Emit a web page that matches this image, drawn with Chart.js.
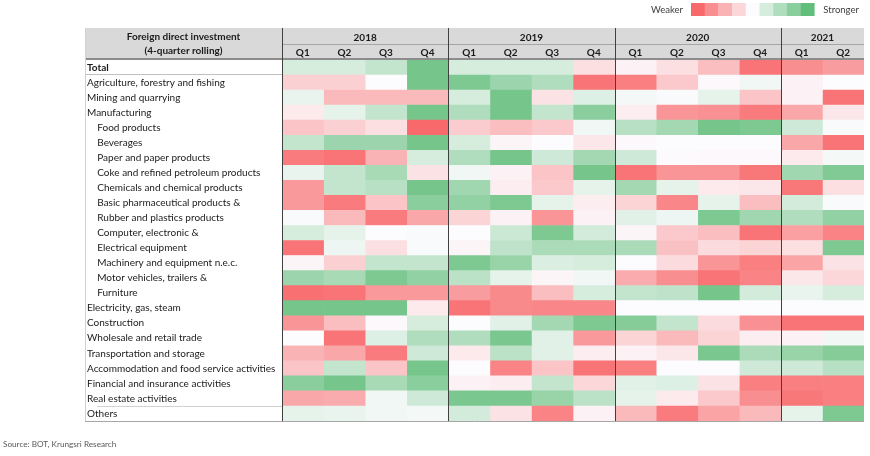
<!DOCTYPE html>
<html>
<head>
<meta charset="utf-8">
<script src="https://cdn.jsdelivr.net/npm/chart.js@4.4.0/dist/chart.umd.min.js"></script>
<style>
html, body { margin: 0; padding: 0; background: #fff; }
#wrap { position: relative; width: 870px; height: 456px; }
</style>
</head>
<body>
<div id="wrap"><canvas id="heat"></canvas></div>
<script>
'use strict';

var rowLabels = [
    'Total',
    'Agriculture, forestry and fishing',
    'Mining and quarrying',
    'Manufacturing',
    '    Food products',
    '    Beverages',
    '    Paper and paper products',
    '    Coke and refined petroleum products',
    '    Chemicals and chemical products',
    '    Basic pharmaceutical products &',
    '    Rubber and plastics products',
    '    Computer, electronic &',
    '    Electrical equipment',
    '    Machinery and equipment n.e.c.',
    '    Motor vehicles, trailers &',
    '    Furniture',
    'Electricity, gas, steam',
    'Construction',
    'Wholesale and retail trade',
    'Transportation and storage',
    'Accommodation and food service activities',
    'Financial and insurance activities',
    'Real estate activities',
    'Others'
];
var years = ['2018', '2019', '2020', '2021'];
var yearSpans = [4, 4, 4, 2];
var quarters = ['Q1', 'Q2', 'Q3', 'Q4', 'Q1', 'Q2', 'Q3', 'Q4', 'Q1', 'Q2', 'Q3', 'Q4', 'Q1', 'Q2'];

var s2018 = [
    [1, 1, 1.5, 3.5], [-1.2, -1.2, 0, 3.5], [0.5, -1.8, -1.8, -1.8], [-0.5, 0.6, 1.5, 3.5],
    [-1.5, -1.2, -0.8, -4], [1.5, 2.5, 2.5, 3.5], [-3.5, -3.7, -2, 1], [0.5, 1.5, 2.2, -0.7],
    [-2.7, 1.5, 1.8, 3.5], [-2.7, -3.5, -1.5, 3], [0.1, -1.8, -3.5, -2.3], [1, 0.6, 0, 0.1],
    [-3.7, 0.4, -0.8, 0.1], [-0.2, -1.2, 1.5, 1.5], [2.5, 2.2, 3.3, 2.8], [-3.8, -3.7, -2.7, -2.7],
    [3.5, 3.5, 3.5, -0.5], [-2.8, -1.7, -0.1, 1], [0, -3.7, 0.8, 2], [-2, -2.3, -3.5, 1.2],
    [-1.5, 1.5, -1.5, 3.5], [3, 3.5, 2.2, 3], [-2.3, -2.2, 0.3, 1.2], [0.6, 0.5, 0.3, 0.2]
];
var s2019 = [
    [1, 1, 1, -0.8], [3.3, 2.5, 2, -3.7], [1, 3.5, -0.7, 0.8], [2, 3.5, 1.5, 3],
    [-1.3, -1.7, -1.4, 0.3], [1, -0.2, 0, -0.6], [2, 3.5, 1.2, 2.3], [0.3, -0.3, -1.5, 3.5],
    [2.4, -0.4, -1.4, 0.6], [2.8, 3.3, 0.6, -0.4], [-1.1, -0.3, -2.8, -0.3], [0, 1.3, 3.3, 1.1],
    [-0.2, 1.6, 2.1, 2.1], [3.3, 2.6, 0.9, 1], [1.7, 0.6, -0.2, 0.3], [-2.6, -3.1, -1.7, 1],
    [-3.7, -3.1, -3.2, -3.2], [0, 0.7, 2.3, 3.3], [2, 3.4, 0.7, -2.7], [-0.5, 1.7, 0.7, -0.4],
    [0, -3.3, -1.5, -3.7], [-0.3, -0.4, 1.5, -1], [3.4, 3.4, 2.6, 1.7], [1.1, -0.7, -3.3, -0.3]
];
var s2020 = [
    [-0.3, -0.8, -1.7, -3.7], [-3.4, -1.4, -0.1, 0.3], [0.2, 0.1, 0.6, -1.5], [-0.4, -2.8, -2.9, -3.5],
    [1.8, 2.3, 3.5, 3.3], [-0.1, 0, 0, 0], [1.2, -0.05, -0.1, -0.1], [-3.7, -2.8, -2.8, -3.6],
    [2.3, 0.6, -0.5, -0.6], [-1.1, -3.2, 0.6, -1.7], [0.7, 0.4, 3.3, 2.4], [-0.2, -1.4, -1.7, -3.7],
    [2.1, -1.6, -0.9, -1.1], [0, -0.9, -2.8, -3.4], [-2.2, -3, -3.7, -3.3], [1.5, 1.6, 3.5, 1.1],
    [0, 0, 0, 0], [3.1, 1.5, -0.9, -2.9], [-1.1, -1.8, -1.1, -0.4], [-0.3, -0.6, 3.4, 2.1],
    [-3.4, 0, 0, 1.2], [0.7, 0.8, -0.7, -3.4], [0.6, -0.5, -1.4, -3], [-1.8, -3.5, -2.4, -1.8]
];
var s2021 = [
    [-3, -2.6], [-0.3, 0], [-0.3, -3.7], [-2.3, -0.6],
    [1.2, 0.1], [-2.3, -3.7], [-0.5, 0.2], [2.4, 3.2],
    [-3.6, -0.8], [1.1, 0.1], [2, 2.8], [-2.5, -3.3],
    [-0.8, 3.3], [-2.4, -0.7], [-0.6, -1], [0.5, 1],
    [0, 0], [-3.7, -3.7], [-0.3, 0.3], [2.6, 3.1],
    [1.2, 1.8], [-3.4, -3.4], [-3.6, -3.4], [0.6, 3.3]
];
var scoresByYear = [s2018, s2019, s2020, s2021];

function colorFor(v) {
    var lo = [248, 105, 107], mid = [252, 252, 255], hi = [99, 190, 123];
    var t = Math.min(Math.abs(v) / 4, 1);
    var end = v < 0 ? lo : hi;
    var c = mid.map(function (m, i) { return Math.round(m + (end[i] - m) * t); });
    return 'rgb(' + c.join(',') + ')';
}

function scoreAt(row, col) {
    var y = Math.min(Math.floor(col / 4), 3);
    return scoresByYear[y][row][col - y * 4];
}

var yearStarts = [];
var acc = 0;
yearSpans.forEach(function (s) { yearStarts.push(acc); acc += s; });

var datasets = quarters.map(function (q, col) {
    return {
        label: years[Math.floor(col / 4)] + ' ' + q,
        xAxisID: 'x',
        yAxisID: 'y',
        data: rowLabels.map(function () { return 1; }),
        backgroundColor: rowLabels.map(function (l, row) { return colorFor(scoreAt(row, col)); }),
        borderWidth: 0,
        categoryPercentage: 1,
        barPercentage: 1
    };
});

var tableFrame = {
    id: 'tableFrame',
    beforeDraw: function (chart) {
        var c = chart.ctx, a = chart.chartArea, x = chart.scales.x, x2 = chart.scales.x2;
        var left = chart.scales.y.left - 2;
        c.save();
        c.fillStyle = '#d9d9d9';
        c.fillRect(left, x2.top, a.right - left, x.bottom - x2.top);
        c.restore();
    },
    afterDraw: function (chart) {
        var c = chart.ctx, a = chart.chartArea, x = chart.scales.x, x2 = chart.scales.x2, y = chart.scales.y;
        var left = y.left - 2;
        var rowH = (a.bottom - a.top) / rowLabels.length;
        c.save();

        function hline(x0, x1, yy, color, w) {
            c.strokeStyle = color;
            c.lineWidth = w;
            c.beginPath();
            c.moveTo(x0, yy);
            c.lineTo(x1, yy);
            c.stroke();
        }

        hline(a.left, a.right, x.top + 0.5, '#a6a6a6', 1);
        hline(left, a.right, a.top - 1, '#8c8c8c', 2);
        hline(left, a.left, a.top + rowH - 0.5, '#bfbfbf', 1);
        hline(left + 12, a.left, a.bottom - rowH + 0.5, '#d0d0d0', 1);
        hline(left, a.right, a.bottom + 0.5, '#a6a6a6', 1);

        c.strokeStyle = '#d0d0d0';
        c.lineWidth = 1;
        c.beginPath();
        c.moveTo(left + 0.5, x2.top);
        c.lineTo(left + 0.5, a.bottom);
        c.stroke();

        c.strokeStyle = '#404040';
        [0].concat(yearStarts.slice(1)).forEach(function (v) {
            var px = Math.round(x.getPixelForValue(v)) + 0.5;
            c.beginPath();
            c.moveTo(px, x2.top);
            c.lineTo(px, a.bottom);
            c.stroke();
        });

        // header cell
        c.fillStyle = '#1a1a1a';
        c.font = 'bold 10px Lato';
        c.textAlign = 'center';
        c.textBaseline = 'middle';
        var cx = (left + a.left) / 2;
        c.fillText('Foreign direct investment', cx, x2.top + 8.5);
        c.fillText('(4-quarter rolling)', cx, x.top + 7);

        // colour key
        var sw = 13.7, kx = 691, ky = 3, kh = 13;
        for (var i = 0; i < 9; i++) {
            c.fillStyle = colorFor(i - 4);
            c.fillRect(kx + i * sw, ky, sw + 0.3, kh);
        }
        c.fillStyle = '#404040';
        c.font = '9.5px Lato';
        c.textAlign = 'right';
        c.fillText('Weaker', kx - 8, ky + kh / 2);
        c.textAlign = 'left';
        c.fillText('Stronger', kx + 9 * sw + 9, ky + kh / 2);

        c.fillStyle = '#595959';
        c.font = '8.2px Lato';
        c.fillText('Source: BOT, Krungsri Research', 3, 444);
        c.restore();
    }
};

new Chart(document.getElementById('heat'), {
    type: 'bar',
    data: { labels: rowLabels, datasets: datasets },
    plugins: [tableFrame],
    options: {
        indexAxis: 'y',
        responsive: true,
        maintainAspectRatio: false,
        animation: false,
        layout: { padding: { top: 28, left: 87, right: 6, bottom: 35 } },
        plugins: { legend: { display: false }, tooltip: { enabled: false } },
        scales: {
            y: {
                stacked: true,
                grid: { display: false, drawTicks: false },
                border: { display: false },
                afterFit: function (scale) { scale.width = 195; },
                ticks: {
                    autoSkip: false,
                    crossAlign: 'far',
                    padding: 0,
                    color: '#1a1a1a',
                    font: function (ctx) {
                        return { family: 'Lato', size: 10, weight: ctx.index === 0 ? 'bold' : 'normal' };
                    }
                }
            },
            x: {
                type: 'linear',
                position: 'top',
                stacked: true,
                min: 0,
                max: quarters.length,
                weight: 0,
                grid: { display: false, drawTicks: false },
                border: { display: false },
                afterFit: function (scale) { scale.height = 16; },
                afterBuildTicks: function (scale) {
                    scale.ticks = quarters.map(function (q, i) { return { value: i + 0.5 }; });
                },
                ticks: {
                    padding: 1.5,
                    color: '#1a1a1a',
                    font: { family: 'Lato', size: 10, weight: 'bold' },
                    callback: function (v, i) { return quarters[i]; }
                }
            },
            x2: {
                type: 'linear',
                axis: 'x',
                position: 'top',
                min: 0,
                max: quarters.length,
                weight: 1,
                grid: { display: false, drawTicks: false },
                border: { display: false },
                afterFit: function (scale) { scale.height = 16; },
                afterBuildTicks: function (scale) {
                    scale.ticks = years.map(function (yr, i) { return { value: yearStarts[i] + yearSpans[i] / 2 }; });
                },
                ticks: {
                    padding: 0,
                    color: '#1a1a1a',
                    font: { family: 'Lato', size: 10, weight: 'bold' },
                    callback: function (v, i) { return years[i]; }
                }
            }
        }
    }
});
</script>
</body>
</html>
